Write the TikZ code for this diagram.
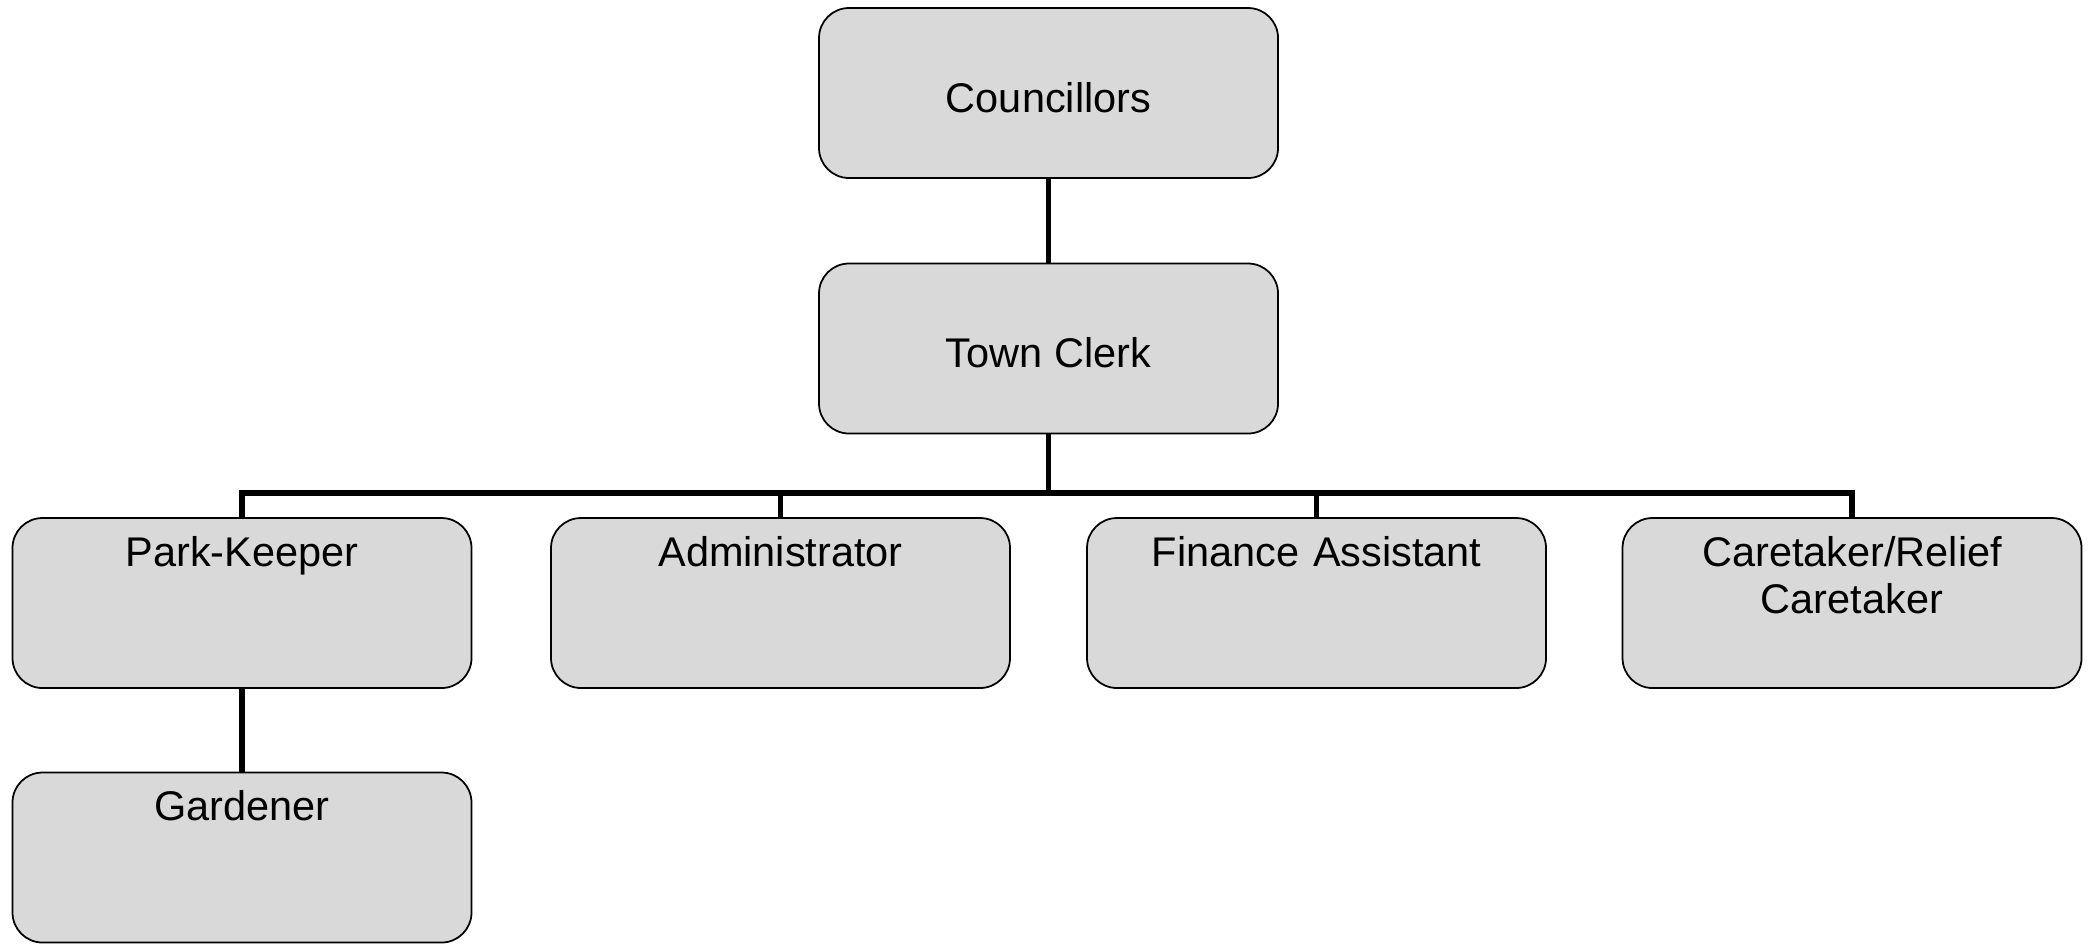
\documentclass[tikz,border=0pt]{standalone}
\usepackage{fontspec}
\setmainfont{Liberation Sans}
\definecolor{boxgray}{RGB}{217,217,217}
\tikzset{every picture/.style={line width=0.75pt}}
\tikzset{
	post/.style={draw=black,line width=0.5pt,fill=boxgray,rounded corners=0.3cm,inner sep=0pt,
		minimum width=4.59cm,minimum height=1.7cm,text height=0.38cm,text depth=0cm,
		font=\fontsize{11.8}{13.5}\selectfont},
	staff/.style={post,text width=4.59cm,align=center,text height=0.48cm,text depth=1.22cm},
	link/.style={line width=1.6pt}
}

\begin{document}
\begin{tikzpicture}
	\useasboundingbox (0,0) rectangle (20.91,-9.43);
	%Cap tren
	\node[post] (council) at (10.485,-0.93) {Councillors};
	\node[post] (clerk) at (10.485,-3.485) {Town Clerk};
	%Nhan vien
	\node[staff] (park) at (2.42,-6.03) {Park-Keeper};
	\node[staff] (admin) at (7.805,-6.03) {Administrator};
	\node[staff] (finance) at (13.165,-6.03) {Finance Assistant};
	\node[staff] (caretaker) at (18.52,-6.03) {Caretaker/Relief\\Caretaker};
	\node[staff] (gardener) at (2.42,-8.575) {Gardener};
	%Duong noi
	\coordinate (bus) at (10.485,-4.93);
	\draw[link] (council) -- (clerk);
	\draw[link] (clerk.south) -- (bus);
	\draw[link] (park.north) -- (park.north |- bus) -- (caretaker.north |- bus) -- (caretaker.north);
	\draw[link] (admin.north |- bus) -- (admin.north);
	\draw[link] (finance.north |- bus) -- (finance.north);
	\draw[link] (park) -- (gardener);
\end{tikzpicture}
\end{document}
